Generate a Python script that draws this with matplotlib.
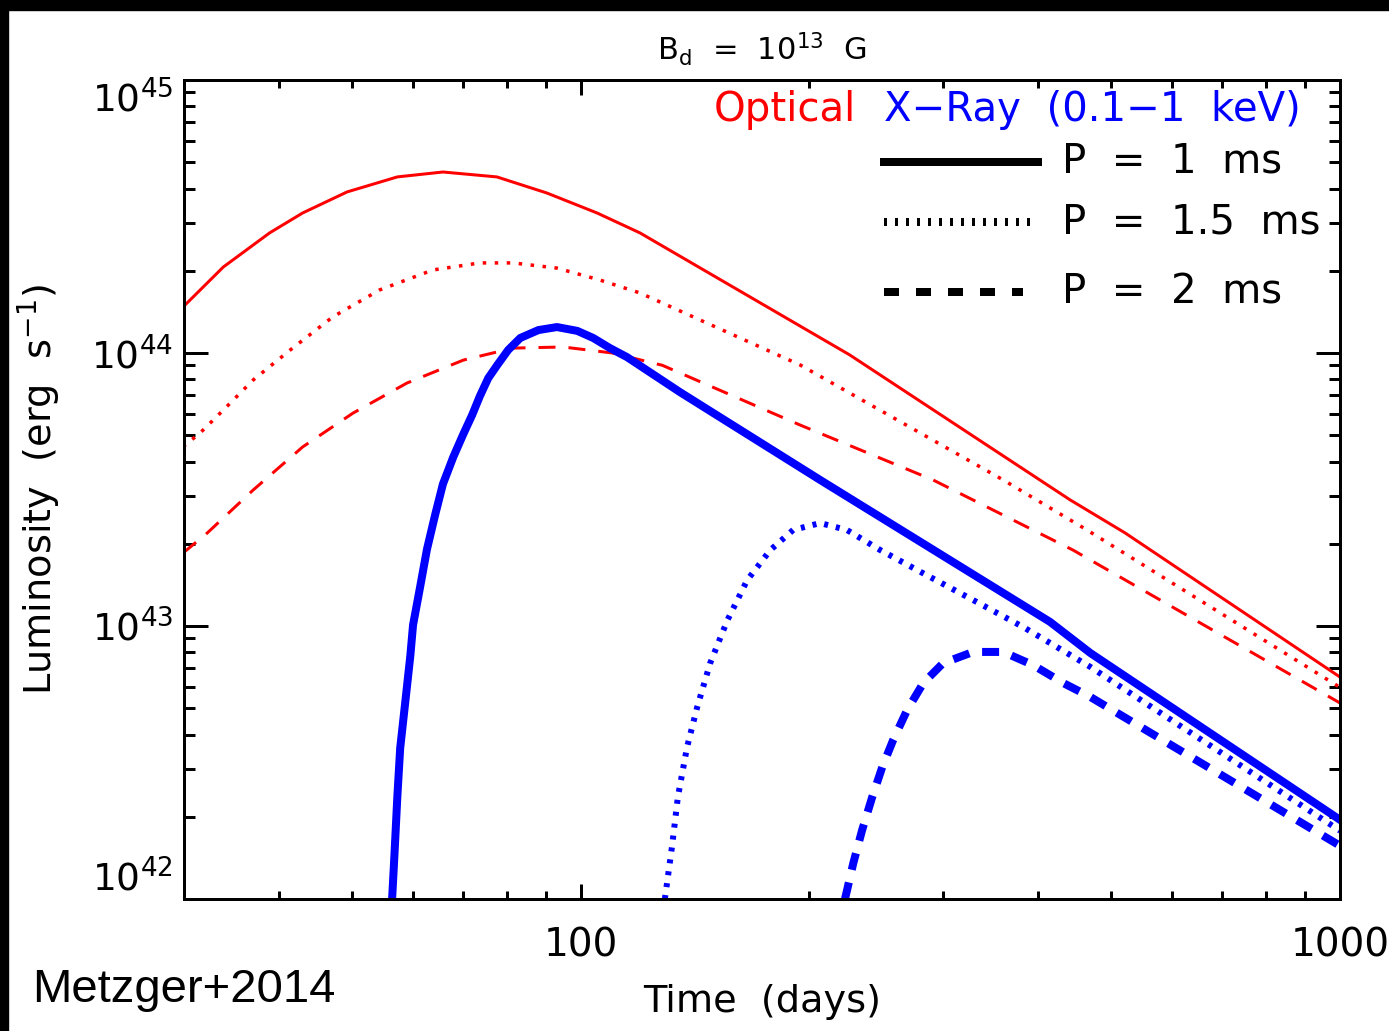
import matplotlib
matplotlib.use("Agg")
import matplotlib.pyplot as plt
from matplotlib.patches import Rectangle
from matplotlib.ticker import FixedLocator, NullFormatter
import numpy as np

plt.rcParams['mathtext.default'] = 'regular'
plt.rcParams['lines.scale_dashes'] = False
plt.rcParams['font.family'] = 'DejaVu Sans'

# values: time in days, log10 of luminosity in erg/s
# optical, P = 1 ms
t_opt_1 = [29.9, 33.8, 38.9, 43.0, 49.2, 57.3, 65.8, 77.5, 90.2, 105, 119.6, 226, 441, 521, 1000]
logL_opt_1 = [44.168, 44.315, 44.440, 44.513, 44.590, 44.645, 44.663, 44.645, 44.586, 44.513,
              44.440, 43.993, 43.462, 43.341, 42.813]
# optical, P = 1.5 ms
t_opt_15 = [29.9, 31.5, 33.8, 37.0, 41.4, 47.1, 54.3, 63.8, 73.6, 81.4, 93.0, 106, 119.6,
            194.5, 360, 464, 1000]
logL_opt_15 = [43.656, 43.707, 43.791, 43.901, 44.011, 44.132, 44.231, 44.304, 44.330, 44.330,
               44.311, 44.267, 44.220, 43.956, 43.535, 43.352, 42.775]
# optical, P = 2 ms
t_opt_2 = [29.9, 32.2, 37.0, 43.0, 50.1, 59.0, 70.0, 81.4, 94.8, 110, 128, 194.5, 291, 445, 1000]
logL_opt_2 = [43.267, 43.341, 43.498, 43.656, 43.780, 43.890, 43.974, 44.018, 44.022, 44.000,
              43.955, 43.736, 43.535, 43.278, 42.718]
# X-ray, P = 1 ms
t_x_1 = [56.4, 56.8, 57.3, 57.8, 58.7, 59.6, 60.1, 61.4, 62.7, 64.3, 65.8, 67.9, 70.0, 71.9,
         73.6, 75.5, 77.6, 80.2, 83.2, 87.9, 93.0, 98.9, 103.8, 109.2, 115, 135, 206.6, 415,
         469, 1000]
logL_x_1 = [42.0, 42.161, 42.374, 42.553, 42.722, 42.890, 43.004, 43.143, 43.282, 43.410,
            43.520, 43.619, 43.703, 43.773, 43.842, 43.908, 43.956, 44.011, 44.055, 44.084,
            44.095, 44.081, 44.055, 44.018, 43.985, 43.857, 43.535, 43.015, 42.901, 42.290]
# X-ray, P = 1.5 ms
t_x_15 = [129, 131.8, 134.2, 138, 142.3, 148, 156, 165.6, 177.6, 190.4, 206.6, 224, 248, 282,
          328.6, 382.6, 469, 1000]
logL_x_15 = [42.0, 42.190, 42.374, 42.557, 42.703, 42.864, 43.022, 43.168, 43.278, 43.352,
             43.377, 43.352, 43.278, 43.194, 43.095, 42.996, 42.850, 42.250]
# X-ray, P = 2 ms
t_x_2 = [222.8, 228.5, 234.7, 242, 249.5, 257.8, 269, 282.5, 300, 328.6, 360, 394, 432, 469, 1000]
logL_x_2 = [42.0, 42.132, 42.253, 42.374, 42.484, 42.582, 42.692, 42.791, 42.864, 42.905,
            42.905, 42.857, 42.791, 42.740, 42.195]

periods = ["1", "1.5", "2"]

px = 0.72  # points per pixel at dpi 100
solid = '-'
dotted_red = (0, (3.5 * px, 8.5 * px))
dashed_red = (0, (17 * px, 13 * px))
dotted_blue = (0, (4 * px, 8 * px))
dashed_blue = (0, (17 * px, 13 * px))

fig = plt.figure(figsize=(13.89, 10.31), dpi=100)
ax = fig.add_axes([184 / 1389, 1 - 899 / 1031, 1156 / 1389, 819 / 1031])

# black frame strips at top and left of the slide
fig.patches.append(Rectangle((0, 1 - 10 / 1031), 1, 10 / 1031, transform=fig.transFigure,
                             color='black', zorder=0))
fig.patches.append(Rectangle((0, 0), 8 / 1389, 1, transform=fig.transFigure,
                             color='black', zorder=0))

red = '#ff0000'
blue = '#0000ff'

ax.plot(t_opt_1, 10 ** np.array(logL_opt_1), color=red, lw=3 * px, ls=solid)
ax.plot(t_opt_15, 10 ** np.array(logL_opt_15), color=red, lw=3.5 * px, ls=dotted_red,
        dash_capstyle='butt')
ax.plot(t_opt_2, 10 ** np.array(logL_opt_2), color=red, lw=3 * px, ls=dashed_red,
        dash_capstyle='butt')
ax.plot(t_x_1, 10 ** np.array(logL_x_1), color=blue, lw=8 * px, ls=solid)
ax.plot(t_x_15, 10 ** np.array(logL_x_15), color=blue, lw=6 * px, ls=dotted_blue,
        dash_capstyle='butt')
ax.plot(t_x_2, 10 ** np.array(logL_x_2), color=blue, lw=8 * px, ls=dashed_blue,
        dash_capstyle='butt')

ax.set_xscale('log')
ax.set_yscale('log')
ax.set_xlim(30, 1000)
ax.set_ylim(1e42, 1e45)

ax.xaxis.set_major_locator(FixedLocator([100, 1000]))
ax.xaxis.set_minor_locator(FixedLocator([40, 50, 60, 70, 80, 90, 200, 300, 400, 500, 600, 700, 800, 900]))
ax.set_xticklabels(["100", "1000"])
ax.xaxis.set_minor_formatter(NullFormatter())
ax.yaxis.set_major_locator(FixedLocator([1e42, 1e43, 1e44, 1e45]))
ax.yaxis.set_minor_locator(FixedLocator([m * 10.0 ** e for e in (42, 43, 44) for m in range(2, 10)]))
ax.set_yticklabels(["10$^{42}$", "10$^{43}$", "10$^{44}$", "10$^{45}$"])
ax.yaxis.set_minor_formatter(NullFormatter())

ax.tick_params(axis='x', which='major', direction='in', length=15 * px, width=3 * px,
               top=True, labelsize=28, pad=20)
ax.tick_params(axis='x', which='minor', direction='in', length=8 * px, width=3 * px, top=True)
ax.tick_params(axis='y', which='major', direction='in', length=24 * px, width=3 * px,
               right=True, labelsize=27, pad=8)
ax.tick_params(axis='y', which='minor', direction='in', length=11 * px, width=3 * px, right=True)
for s in ax.spines.values():
    s.set_linewidth(3 * px)

yt = ax.yaxis.get_major_ticks()
yt[0].label1.set_va('bottom')
yt[-1].label1.set_va('top')

ax.set_xlabel("Time  (days)", fontsize=27.5, labelpad=14)
ax.set_ylabel("Luminosity  (erg  s$^{-1}$)", fontsize=27.5, labelpad=20)
ax.set_title("B$_d$  =  10$^{13}$  G", fontsize=22, pad=14)

# legend block
ax.text(0.4585, 0.963, "Optical", color=red, fontsize=29, transform=ax.transAxes, va='center')
ax.text(0.6055, 0.963, "X\u2212Ray  (0.1\u22121  keV)", color=blue, fontsize=29,
        transform=ax.transAxes, va='center')
legend_y = [0.900, 0.8266, 0.7411]
legend_x_end = [0.7388, 0.7388, 0.7258]
legend_styles = [solid, (0, (3 * px, 8 * px)), (0, (15 * px, 17 * px))]
for y, xe, st, p in zip(legend_y, legend_x_end, legend_styles, periods):
    ax.plot([0.6055, xe], [y, y], color='black', lw=8 * px, ls=st, dash_capstyle='butt',
            transform=ax.transAxes, clip_on=False)
    ax.text(0.7595, y, "P  =  " + p + "  ms", color='black', fontsize=29,
            transform=ax.transAxes, va='center')

fig.text(32 / 1389, 1 - 990 / 1031, "Metzger+2014", fontsize=34, family='Liberation Sans',
         va='center', ha='left')

fig.savefig("out.png", dpi=100, facecolor='white')
